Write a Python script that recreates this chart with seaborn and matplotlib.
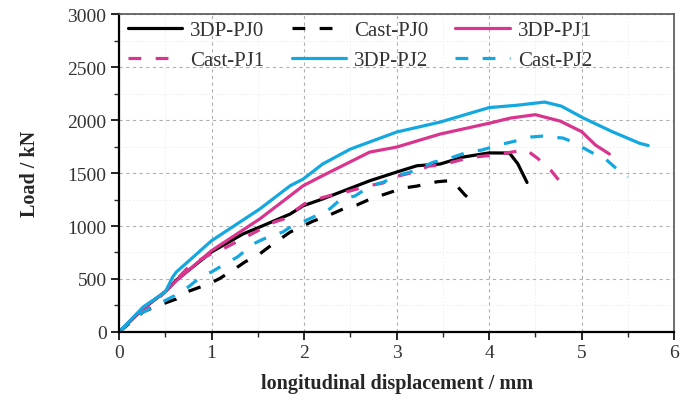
import numpy as np
import pandas as pd
import matplotlib
matplotlib.use("Agg")
import matplotlib.pyplot as plt
from matplotlib.ticker import MultipleLocator
import seaborn as sns

# ---- data ----
x_3dp0 = [0, 0.12, 0.26, 0.5, 0.62, 1.0, 1.34, 1.52, 1.85, 1.99, 2.2, 2.71, 3.0, 3.22, 3.47, 3.72, 4.0, 4.22, 4.31, 4.41]
y_3dp0 = [0, 100, 220, 380, 490, 755, 925, 990, 1113, 1191, 1255, 1427, 1509, 1569, 1585, 1651, 1690, 1689, 1588, 1411]

x_cast0 = [0, 0.26, 0.41, 0.62, 0.73, 0.97, 1.08, 1.25, 1.36, 1.52, 1.62, 1.85, 2.1, 2.25, 2.42, 2.57, 2.74, 2.88, 3.07, 3.22, 3.44, 3.6, 3.74, 3.8]
y_cast0 = [0, 189, 245, 311, 377, 453, 500, 594, 660, 736, 802, 943, 1047, 1094, 1160, 1198, 1264, 1302, 1358, 1377, 1418, 1430, 1292, 1250]

x_3dp1 = [0, 0.12, 0.26, 0.5, 0.62, 1.0, 1.52, 1.85, 1.99, 2.2, 2.71, 3.0, 3.47, 4.0, 4.23, 4.5, 4.77, 5.0, 5.15, 5.3]
y_3dp1 = [0, 105, 225, 380, 484, 767, 1066, 1286, 1380, 1475, 1698, 1745, 1868, 1970, 2019, 2051, 1990, 1891, 1764, 1680]

x_cast1 = [0, 0.12, 0.4, 0.73, 0.83, 1.06, 1.16, 1.68, 1.78, 2.0, 2.08, 2.3, 2.45, 2.7, 2.85, 3.03, 3.15, 3.35, 3.48, 3.73, 3.84, 4.05, 4.19, 4.4, 4.53, 4.67, 4.77]
y_cast1 = [0, 100, 290, 594, 660, 767, 800, 1038, 1066, 1207, 1239, 1292, 1320, 1380, 1405, 1475, 1500, 1566, 1575, 1632, 1651, 1670, 1690, 1720, 1635, 1523, 1415]

x_3dp2 = [0, 0.12, 0.26, 0.5, 0.58, 0.62, 1.0, 1.52, 1.85, 1.99, 2.2, 2.5, 3.0, 3.47, 4.0, 4.3, 4.6, 4.78, 5.02, 5.33, 5.63, 5.72]
y_3dp2 = [0, 107, 235, 377, 519, 566, 861, 1160, 1380, 1443, 1585, 1726, 1887, 1981, 2118, 2140, 2170, 2132, 2019, 1891, 1780, 1760]

x_cast2 = [0, 0.2, 0.4, 0.47, 0.6, 0.7, 0.9, 1.0, 1.18, 1.28, 1.45, 1.56, 1.77, 1.87, 1.94, 2.1, 2.25, 2.4, 2.55, 2.72, 2.86, 3.0, 3.15, 3.4, 3.55, 3.77, 3.92, 4.1, 4.25, 4.45, 4.58, 4.8, 4.9, 5.1, 5.26, 5.4, 5.5]
y_cast2 = [0, 160, 248, 283, 342, 390, 531, 566, 660, 707, 830, 877, 943, 1000, 1019, 1085, 1141, 1255, 1283, 1380, 1415, 1475, 1509, 1603, 1632, 1698, 1717, 1764, 1795, 1840, 1849, 1830, 1795, 1698, 1632, 1523, 1462]

labels = ["3DP-PJ0", "Cast-PJ0", "3DP-PJ1", "Cast-PJ1", "3DP-PJ2", "Cast-PJ2"]
xticks = [0, 1, 2, 3, 4, 5, 6]
yticks = [0, 500, 1000, 1500, 2000, 2500, 3000]

dash = (0, (4, 4.5))
series = [
    (labels[0], x_3dp0, y_3dp0, "#000000", "-"),
    (labels[1], x_cast0, y_cast0, "#000000", dash),
    (labels[2], x_3dp1, y_3dp1, "#D9348E", "-"),
    (labels[3], x_cast1, y_cast1, "#D9348E", dash),
    (labels[4], x_3dp2, y_3dp2, "#14A8E0", "-"),
    (labels[5], x_cast2, y_cast2, "#14A8E0", dash),
]

sns.set_theme(style="white")
plt.rcParams["font.family"] = ["Liberation Serif", "DejaVu Serif"]

fig = plt.figure(figsize=(6.9, 4.1), dpi=100)
ax = fig.add_axes([0.1725, 0.188, 0.8045, 0.775])

for name, xs, ys, col, ls in series:
    df = pd.DataFrame({"x": xs, "y": ys})
    sns.lineplot(data=df, x="x", y="y", ax=ax, sort=False, color=col,
                 linewidth=2.3, linestyle=ls, label=name, estimator=None)

ax.set_xlim(0, 6)
ax.set_ylim(0, 3000)
ax.set_xticks(xticks)
ax.set_yticks(yticks)
ax.xaxis.set_minor_locator(MultipleLocator(0.5))
ax.yaxis.set_minor_locator(MultipleLocator(250))

ax.grid(True, which="major", color="#b0b0b0", linestyle=(0, (3, 3)), linewidth=0.8)
ax.grid(True, which="minor", color="#ececec", linestyle=(0, (2, 2)), linewidth=0.6)
ax.set_axisbelow(True)

ax.tick_params(axis="both", which="major", direction="out", length=6, width=1.2,
               labelsize=14, colors="black", bottom=True, left=True, pad=3)
ax.tick_params(axis="both", which="minor", direction="out", length=3.5, width=1.0,
               bottom=True, left=True)
for lab in ax.get_xticklabels() + ax.get_yticklabels():
    lab.set_color("#333333")

for s in ["left", "bottom"]:
    ax.spines[s].set_color("black")
    ax.spines[s].set_linewidth(1.6)
for s in ["top", "right"]:
    ax.spines[s].set_color("#555555")
    ax.spines[s].set_linewidth(1.2)

ax.set_xlabel("longitudinal displacement / mm", fontsize=14.5, fontweight="bold", labelpad=8)
ax.set_ylabel("Load / kN", fontsize=14.5, fontweight="bold", labelpad=20)

h, l = ax.get_legend_handles_labels()
order = [0, 3, 1, 4, 2, 5]
ax.legend([h[i] for i in order], [l[i] for i in order], ncol=3, frameon=False,
          loc="upper left", bbox_to_anchor=(-0.018, 1.038), fontsize=15,
          handlelength=2.6, handletextpad=0.4, columnspacing=1.3, labelspacing=0.5,
          labelcolor="#333333")

fig.savefig("out.png", dpi=100)
